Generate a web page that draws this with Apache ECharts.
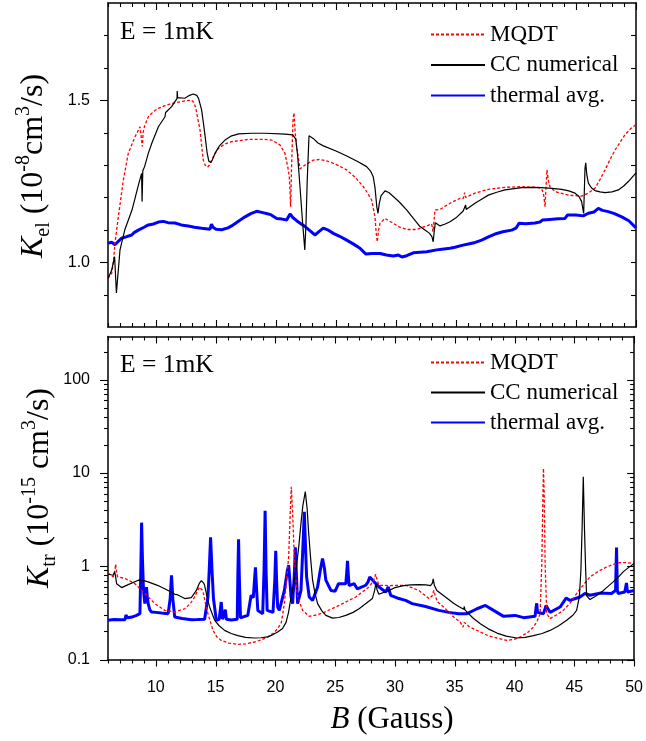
<!DOCTYPE html>
<html>
<head>
<meta charset="utf-8">
<script src="https://cdn.jsdelivr.net/npm/echarts@6/dist/echarts.min.js"></script>
<style>
  html, body { margin: 0; padding: 0; background: #fff; }
  #chart { width: 646px; height: 741px; }
</style>
</head>
<body>
<div id="chart"></div>
<script>
// ---- Elastic rate coefficient K_el (10^-8 cm^3/s) vs B (Gauss) ----
const elMqdt = [
  [6.0,0.95],[6.31,0.966],[6.45,1.0],[6.58,1.058],[6.86,1.140],[7.28,1.254],[7.69,1.336],[8.25,1.387],
  [8.67,1.418],[8.8,1.423],[8.86,1.357],[8.93,1.40],[9.03,1.418],[9.36,1.449],[9.8,1.465],[10.19,1.475],
  [10.8,1.484],[11.31,1.490],[12.42,1.498],[12.97,1.500],[13.15,1.493],[13.3,1.478],[13.5,1.44],[13.67,1.408],
  [13.8,1.36],[13.94,1.315],[14.1,1.30],[14.3,1.293],[14.45,1.30],[14.64,1.315],[14.9,1.335],[15.19,1.351],
  [15.7,1.364],[16.3,1.372],[17.69,1.379],[19.0,1.379],[19.64,1.377],[20.33,1.362],[20.75,1.336],[21.0,1.29],
  [21.11,1.264],[21.22,1.171],[21.3,1.30],[21.42,1.44],[21.5,1.461],[21.6,1.40],[21.72,1.357],[22.0,1.288],
  [22.42,1.300],[23.11,1.315],[23.6,1.317],[24.22,1.313],[25.0,1.302],[25.89,1.285],[26.6,1.262],[27.28,1.233],
  [27.6,1.215],[27.97,1.192],[28.25,1.140],[28.35,1.09],[28.44,1.063],[28.55,1.10],[28.67,1.120],[29.08,1.135],
  [29.4,1.128],[29.78,1.120],[30.3,1.108],[30.89,1.101],[31.72,1.101],[32.56,1.112],[32.97,1.118],[33.08,1.094],
  [33.2,1.14],[33.25,1.161],[33.67,1.163],[34.5,1.182],[35.33,1.197],[35.61,1.197],[35.72,1.215],[35.8,1.20],
  [36.58,1.213],[37.69,1.225],[39.08,1.231],[40.48,1.233],[41.86,1.231],[42.2,1.222],[42.32,1.205],[42.42,1.171],
  [42.5,1.23],[42.58,1.285],[42.7,1.25],[42.83,1.233],[43.25,1.218],[44.36,1.207],[45.47,1.204],[46.0,1.213],
  [46.58,1.228],[47.0,1.255],[47.42,1.285],[47.85,1.318],[48.25,1.346],[48.7,1.372],[49.08,1.393],[49.5,1.41],
  [50.0,1.425]
];
const elCc = [
  [6.0,0.95],[6.3,0.975],[6.55,1.017],[6.7,0.905],[7.0,1.038],[7.4,1.10],[8.0,1.161],[8.5,1.233],[8.8,1.274],
  [8.84,1.187],[8.9,1.282],[9.05,1.295],[9.35,1.335],[9.65,1.367],[10.2,1.418],[10.75,1.449],[10.8,1.462],
  [11.3,1.48],[11.75,1.505],[11.77,1.528],[11.8,1.508],[12.4,1.506],[12.8,1.515],[13.1,1.519],[13.4,1.515],
  [13.55,1.505],[13.8,1.470],[13.95,1.43],[14.1,1.387],[14.25,1.34],[14.4,1.312],[14.58,1.308],[14.75,1.32],
  [14.92,1.336],[15.3,1.36],[15.75,1.377],[16.3,1.39],[16.9,1.396],[18.0,1.398],[19.1,1.398],[20.75,1.395],
  [21.4,1.393],[21.65,1.38],[21.8,1.33],[22.0,1.233],[22.2,1.13],[22.4,1.038],[22.5,1.12],[22.6,1.25],
  [22.75,1.39],[22.83,1.392],[23.1,1.382],[23.5,1.368],[23.95,1.359],[25.0,1.343],[25.9,1.328],[26.8,1.311],
  [27.55,1.295],[27.9,1.28],[28.1,1.264],[28.25,1.23],[28.4,1.171],[28.5,1.151],[28.6,1.18],[28.75,1.205],
  [29.08,1.220],[29.4,1.215],[29.8,1.202],[30.3,1.185],[30.9,1.161],[31.5,1.133],[32.0,1.110],[32.5,1.097],
  [32.8,1.089],[33.0,1.078],[33.1,1.063],[33.2,1.10],[33.28,1.122],[33.67,1.112],[34.1,1.118],[34.5,1.125],
  [35.0,1.137],[35.6,1.158],[35.75,1.162],[35.8,1.177],[35.85,1.163],[36.58,1.182],[37.2,1.196],[37.69,1.207],
  [38.4,1.216],[39.08,1.223],[40.48,1.230],[41.3,1.231],[42.14,1.230],[43.0,1.228],[43.81,1.225],[44.4,1.220],
  [44.92,1.213],[45.25,1.203],[45.47,1.187],[45.6,1.158],[45.64,1.151],[45.75,1.29],[45.81,1.307],[45.9,1.27],
  [46.03,1.244],[46.3,1.229],[46.58,1.221],[47.0,1.217],[47.42,1.215],[48.0,1.217],[48.53,1.223],[49.0,1.236],
  [49.36,1.249],[50.0,1.276]
];
const elThermal = [
  [6.0,1.058],[6.3,1.062],[6.58,1.054],[6.9,1.066],[7.14,1.074],[7.5,1.078],[7.97,1.084],[8.2,1.092],
  [8.53,1.099],[9.0,1.108],[9.36,1.115],[9.8,1.118],[10.2,1.124],[10.61,1.126],[11.0,1.122],[11.58,1.121],
  [12.1,1.115],[12.69,1.112],[13.2,1.108],[13.81,1.105],[14.5,1.102],[14.62,1.117],[14.75,1.108],[15.0,1.102],
  [15.47,1.100],[16.0,1.106],[16.3,1.112],[16.9,1.127],[17.42,1.140],[17.9,1.150],[18.39,1.157],[18.9,1.153],
  [19.36,1.149],[19.6,1.146],[19.75,1.140],[20.06,1.135],[20.5,1.133],[20.89,1.130],[21.17,1.149],[21.4,1.138],
  [21.72,1.128],[22.1,1.118],[22.42,1.110],[22.9,1.095],[23.25,1.084],[23.6,1.095],[23.94,1.105],[24.3,1.100],
  [24.78,1.089],[25.3,1.080],[25.89,1.068],[26.5,1.055],[27.0,1.043],[27.3,1.032],[27.5,1.025],[28.0,1.027],
  [28.67,1.027],[29.2,1.022],[29.78,1.019],[30.2,1.022],[30.5,1.016],[30.89,1.020],[31.44,1.029],[32.0,1.031],
  [32.56,1.032],[33.39,1.038],[34.0,1.041],[34.5,1.043],[34.92,1.046],[35.5,1.052],[36.03,1.056],[36.6,1.061],
  [37.14,1.068],[37.7,1.078],[38.25,1.087],[38.9,1.094],[39.64,1.099],[40.0,1.105],[40.25,1.120],[40.8,1.119],
  [41.58,1.121],[42.0,1.124],[42.2,1.130],[42.83,1.132],[43.5,1.134],[44.08,1.135],[44.3,1.146],[45.0,1.146],
  [45.61,1.143],[46.03,1.151],[46.5,1.155],[46.86,1.166],[47.2,1.160],[47.69,1.156],[48.2,1.150],[48.81,1.140],
  [49.4,1.128],[50.0,1.106]
];

// ---- Trap-loss rate coefficient K_tr (10^-15 cm^3/s) vs B (Gauss) ----
const trMqdt = [
  [6.0,0.85],[6.44,0.767],[6.58,0.90],[6.64,1.05],[6.72,0.85],[6.81,0.77],[7.42,0.74],[8.25,0.65],[9.08,0.51],
  [9.92,0.397],[10.75,0.336],[11.58,0.323],[12.42,0.35],[12.9,0.40],[13.25,0.468],[13.5,0.55],[13.67,0.598],
  [13.8,0.59],[13.94,0.54],[14.15,0.40],[14.36,0.31],[14.78,0.205],[15.1,0.175],[15.47,0.16],[16.1,0.15],
  [16.86,0.145],[17.5,0.147],[18.25,0.154],[18.8,0.162],[19.36,0.175],[19.8,0.19],[20.19,0.214],[20.5,0.25],
  [20.75,0.397],[20.95,0.75],[21.11,1.26],[21.25,4.0],[21.33,7.1],[21.45,3.5],[21.58,1.26],[21.72,0.70],
  [21.86,0.468],[22.28,0.336],[22.83,0.29],[23.4,0.30],[23.94,0.315],[25.33,0.38],[26.72,0.468],[27.83,0.598],
  [28.2,0.70],[28.39,0.82],[28.55,0.68],[28.67,0.625],[29.5,0.62],[30.89,0.625],[32.0,0.55],[32.83,0.45],
  [33.1,0.48],[33.25,0.55],[33.4,0.47],[33.53,0.42],[34.22,0.35],[34.92,0.285],[35.47,0.25],[35.69,0.222],
  [35.8,0.25],[36.2,0.225],[37.14,0.197],[37.8,0.18],[38.53,0.17],[39.36,0.16],[40.0,0.165],[40.5,0.175],
  [41.1,0.195],[41.58,0.222],[41.9,0.26],[42.14,0.31],[42.28,1.07],[42.38,6.0],[42.42,11.2],[42.48,6.0],
  [42.56,1.07],[42.69,0.31],[42.97,0.274],[43.5,0.30],[44.08,0.336],[44.7,0.41],[45.19,0.51],[45.8,0.64],
  [46.31,0.767],[47.0,0.88],[47.69,0.98],[48.3,1.05],[48.81,1.09],[49.4,1.09],[50.0,1.07]
];
const trCc = [
  [6.0,0.82],[6.44,0.80],[6.55,0.87],[6.62,0.80],[6.72,0.65],[7.14,0.59],[7.69,0.635],[8.53,0.708],[9.0,0.70],
  [9.36,0.68],[10.19,0.62],[11.03,0.55],[11.6,0.50],[11.72,0.51],[11.8,0.495],[12.42,0.45],[12.97,0.46],
  [13.39,0.55],[13.65,0.66],[13.81,0.70],[14.0,0.66],[14.08,0.625],[14.3,0.46],[14.5,0.365],[14.92,0.263],
  [15.3,0.23],[15.75,0.205],[16.3,0.19],[16.86,0.18],[17.5,0.173],[18.25,0.17],[18.8,0.171],[19.36,0.175],
  [19.8,0.185],[20.19,0.197],[20.6,0.215],[20.89,0.25],[21.1,0.32],[21.31,0.468],[21.5,0.62],[21.72,0.90],
  [21.95,1.6],[22.14,2.88],[22.3,4.5],[22.5,6.3],[22.65,4.2],[22.78,2.3],[22.95,1.2],[23.11,0.708],[23.3,0.52],
  [23.53,0.397],[23.9,0.33],[24.22,0.297],[24.78,0.278],[25.3,0.282],[25.89,0.297],[26.5,0.32],[27.0,0.35],
  [27.6,0.40],[28.11,0.45],[28.3,0.55],[28.4,0.65],[28.5,0.56],[28.65,0.50],[28.81,0.488],[29.5,0.55],
  [30.0,0.59],[30.61,0.615],[31.3,0.63],[32.0,0.635],[32.6,0.63],[32.97,0.62],[33.13,0.66],[33.2,0.73],
  [33.3,0.62],[33.5,0.55],[34.22,0.468],[34.9,0.40],[35.33,0.37],[35.75,0.345],[35.8,0.37],[35.85,0.34],
  [36.5,0.28],[37.14,0.242],[37.8,0.213],[38.53,0.192],[39.3,0.178],[40.19,0.17],[40.9,0.173],[41.58,0.18],
  [42.3,0.19],[42.97,0.205],[43.7,0.23],[44.36,0.263],[44.9,0.30],[45.19,0.336],[45.42,0.468],[45.55,0.9],
  [45.65,2.5],[45.75,9.1],[45.85,2.5],[45.95,0.9],[46.03,0.48],[46.31,0.44],[46.7,0.47],[47.14,0.51],
  [47.7,0.59],[48.25,0.68],[48.7,0.77],[49.08,0.87],[49.5,0.96],[50.0,1.07]
];
const trThermal = [
  [6.0,0.263],[6.5,0.268],[7.0,0.266],[7.42,0.267],[7.5,0.30],[7.56,0.315],[7.62,0.28],[8.0,0.285],[8.39,0.297],
  [8.67,0.31],[8.75,1.0],[8.81,2.93],[8.88,1.2],[8.97,0.552],[9.08,0.397],[9.22,0.598],[9.3,0.45],[9.36,0.397],
  [9.5,0.34],[9.64,0.323],[10.0,0.32],[10.47,0.315],[11.03,0.31],[11.2,0.45],[11.31,0.80],[11.42,0.45],
  [11.58,0.285],[12.2,0.275],[12.97,0.267],[13.5,0.268],[14.08,0.27],[14.36,0.468],[14.48,1.0],[14.58,2.04],
  [14.7,0.9],[14.82,0.45],[15.06,0.263],[15.3,0.27],[15.47,0.413],[15.58,0.27],[15.72,0.28],[15.81,0.342],
  [15.9,0.27],[16.31,0.265],[16.81,0.27],[16.86,0.8],[16.92,1.94],[16.98,0.8],[17.08,0.28],[17.69,0.297],
  [17.97,0.488],[18.15,0.46],[18.33,0.97],[18.45,0.5],[18.53,0.336],[18.94,0.31],[19.05,0.9],[19.14,3.94],
  [19.22,0.9],[19.31,0.336],[19.8,0.32],[19.95,0.7],[20.03,1.46],[20.1,0.7],[20.19,0.365],[20.33,0.336],
  [20.75,0.55],[21.0,0.9],[21.11,1.025],[21.25,0.6],[21.31,0.468],[21.44,0.397],[21.58,0.8],[21.67,1.59],
  [21.76,0.8],[21.86,0.397],[22.14,0.55],[22.3,1.6],[22.42,3.84],[22.52,1.6],[22.61,0.767],[22.83,0.468],
  [23.11,0.43],[23.53,0.598],[23.75,0.9],[23.94,1.21],[24.1,0.95],[24.22,0.708],[24.64,0.55],[25.0,0.54],
  [25.28,0.65],[25.89,0.65],[25.98,0.9],[26.03,1.14],[26.1,0.8],[26.17,0.62],[26.58,0.65],[26.86,0.57],
  [27.56,0.625],[27.75,0.68],[27.89,0.767],[28.25,0.68],[28.67,0.598],[29.22,0.53],[29.44,0.598],[29.64,0.488],
  [30.33,0.45],[30.89,0.43],[31.44,0.397],[32.56,0.37],[33.67,0.336],[34.5,0.32],[35.33,0.31],[36.03,0.31],
  [36.86,0.35],[37.56,0.38],[38.25,0.336],[39.08,0.29],[40.06,0.297],[40.75,0.281],[41.72,0.29],[41.8,0.36],
  [41.86,0.40],[41.92,0.32],[42.42,0.31],[42.64,0.38],[42.97,0.32],[43.81,0.365],[44.31,0.455],[44.64,0.43],
  [45.47,0.468],[45.89,0.51],[46.31,0.488],[47.14,0.515],[48.11,0.51],[48.45,0.55],[48.53,1.59],[48.6,0.55],
  [48.67,0.51],[49.22,0.53],[49.36,0.66],[49.45,0.53],[50.0,0.55]
];

// ---- Axis ranges, labels and tick positions ----
const bRange = [6, 50];
const bMajorTicks = [10, 15, 20, 25, 30, 35, 40, 45, 50];
const bMinorTicks = [6,7,8,9,11,12,13,14,16,17,18,19,21,22,23,24,26,27,28,29,31,32,33,34,36,37,38,39,41,42,43,44,46,47,48,49];
const elRange = [0.8, 1.8];
const elMajorTicks = [1.0, 1.5];
const elMinorTicks = [0.9, 1.1, 1.2, 1.3, 1.4, 1.6, 1.7];
const trRange = [0.1, 290];
const trMajorTicks = [0.1, 1, 10, 100];
const trMinorTicks = [0.2,0.3,0.4,0.5,0.6,0.7,0.8,0.9, 2,3,4,5,6,7,8,9, 20,30,40,50,60,70,80,90, 200];

const seriesNames = ['MQDT', 'CC numerical', 'thermal avg.'];

const serif = "'Liberation Serif', 'Times New Roman', serif";
const sans = "'Liberation Sans', Arial, sans-serif";

const MAJOR = 7, MINOR = 4;

const chart = echarts.init(document.getElementById('chart'));

const frameLine = () => ({ show: true, onZero: false, lineStyle: { color: '#000', width: 1.5 } });

function xAxisDef(grid, position, labels) {
  return {
    type: 'value', gridIndex: grid, position: position, min: bRange[0], max: bRange[1],
    axisLine: frameLine(), splitLine: { show: false }, axisTick: { show: false },
    axisLabel: { show: !!labels, customValues: bMajorTicks, margin: 20, color: '#000', fontFamily: sans, fontSize: 16 }
  };
}
function yLinDef(position, labels) {
  return {
    type: 'value', gridIndex: 0, position: position, min: elRange[0], max: elRange[1],
    axisLine: frameLine(), splitLine: { show: false }, axisTick: { show: false },
    axisLabel: { show: !!labels, customValues: elMajorTicks, margin: 18, color: '#000', fontFamily: sans, fontSize: 16,
      formatter: v => v.toFixed(1) }
  };
}
function yLogDef(position, labels) {
  return {
    type: 'log', logBase: 10, gridIndex: 1, position: position, min: trRange[0], max: trRange[1],
    axisLine: frameLine(), splitLine: { show: false }, axisTick: { show: false },
    axisLabel: { show: !!labels, customValues: trMajorTicks, margin: 18, color: '#000', fontFamily: sans, fontSize: 16,
      formatter: v => (v < 1 ? String(+v.toFixed(1)) : String(Math.round(v))) }
  };
}

const mqdtStyle = { color: '#ff0000', width: 1.3, type: [3, 2] };
const ccStyle = { color: '#000000', width: 1.2 };
const thermalStyle = { color: '#0000ff', width: 3 };

function lineSeries(name, data, xi, yi, style, z) {
  return {
    name: name, type: 'line', xAxisIndex: xi, yAxisIndex: yi, data: data,
    showSymbol: false, symbol: 'none', smooth: false, z: z,
    itemStyle: { color: style.color },
    lineStyle: Object.assign({}, style)
  };
}

function legendDef(top, gap) {
  return {
    data: seriesNames, orient: 'vertical', left: 425, top: top,
    itemWidth: 54, itemHeight: 4, itemGap: gap,
    itemStyle: { opacity: 0 },
    textStyle: { fontFamily: serif, fontSize: 23, color: '#000', lineHeight: 25 },
    selectedMode: false
  };
}

function yTitle(x, y, sub, sup, gap) {
  return {
    type: 'text', x: x, y: y, rotation: Math.PI / 2,
    style: {
      text: '{i|K}{sub|' + sub + '}{n| (10}{sup|' + sup + '}{n|' + gap + 'cm}{sup|3}{n|/s)}',
      align: 'center', verticalAlign: 'middle', fill: '#000',
      rich: {
        i: { fontFamily: serif, fontSize: 32, fontStyle: 'italic', lineHeight: 40 },
        n: { fontFamily: serif, fontSize: 32, lineHeight: 40 },
        sub: { fontFamily: serif, fontSize: 20, lineHeight: 20, verticalAlign: 'bottom' },
        sup: { fontFamily: serif, fontSize: 20, lineHeight: 20, verticalAlign: 'top' }
      }
    }
  };
}

const textElements = [
  { type: 'text', left: 120, top: 19, style: { text: 'E = 1mK', fontFamily: serif, fontSize: 25.5, fill: '#000' } },
  { type: 'text', left: 120, top: 352.5, style: { text: 'E = 1mK', fontFamily: serif, fontSize: 25.5, fill: '#000' } },
  yTitle(34, 166, 'el', '-8', ''),
  yTitle(40, 488, 'tr', '-15', ' '),
  {
    type: 'text', x: 392, y: 720,
    style: {
      text: '{i|B}{n| (Gauss)}', align: 'center', verticalAlign: 'middle', fill: '#000',
      rich: {
        i: { fontFamily: serif, fontSize: 31, fontStyle: 'italic' },
        n: { fontFamily: serif, fontSize: 31 }
      }
    }
  }
];

const option = {
  animation: false,
  backgroundColor: '#fff',
  grid: [
    { left: 108, right: 10, top: 3, height: 324, show: false },
    { left: 108, right: 10, top: 336.5, height: 323, show: false }
  ],
  xAxis: [
    xAxisDef(0, 'bottom', false),
    xAxisDef(0, 'top', false),
    xAxisDef(1, 'bottom', true),
    xAxisDef(1, 'top', false)
  ],
  yAxis: [
    yLinDef('left', true),
    yLinDef('right', false),
    yLogDef('left', true),
    yLogDef('right', false)
  ],
  legend: [legendDef(17, 5.5), legendDef(345, 5)],
  series: [
    lineSeries('MQDT', elMqdt, 0, 0, mqdtStyle, 3),
    lineSeries('CC numerical', elCc, 0, 0, ccStyle, 4),
    lineSeries('thermal avg.', elThermal, 0, 0, thermalStyle, 2),
    lineSeries('MQDT', trMqdt, 2, 2, mqdtStyle, 3),
    lineSeries('CC numerical', trCc, 2, 2, ccStyle, 4),
    lineSeries('thermal avg.', trThermal, 2, 2, thermalStyle, 2)
  ],
  graphic: { elements: textElements }
};

chart.setOption(option);

// Map a (B, K) pair of a panel to pixels through that panel's axis scales.
function toPixel(panel, x, y) {
  let p = null;
  try {
    p = chart.convertToPixel({ seriesIndex: panel === 0 ? 0 : 3 }, [x, y]);
  } catch (e) { p = null; }
  if (!p || !isFinite(p[0]) || !isFinite(p[1])) {
    try {
      const model = chart.getModel();
      const xa = model.getComponent('xAxis', panel === 0 ? 0 : 2).axis;
      const ya = model.getComponent('yAxis', panel === 0 ? 0 : 2).axis;
      p = [xa.toGlobalCoord(xa.dataToCoord(x)), ya.toGlobalCoord(ya.dataToCoord(y))];
    } catch (e) { p = null; }
  }
  return (p && isFinite(p[0]) && isFinite(p[1])) ? p : null;
}

// Short tick strokes along the frame edges.
function tickMarks(panel, values, fixed, isX, dx, dy) {
  const out = [];
  values.forEach(v => {
    const p = toPixel(panel, isX ? v : fixed, isX ? fixed : v);
    if (!p) return;
    const x = isX ? Math.round(p[0]) + 0.5 : p[0];
    const y = isX ? p[1] : Math.round(p[1]) + 0.5;
    out.push({
      type: 'line', z: 100,
      shape: { x1: x, y1: y, x2: x + dx, y2: y + dy },
      style: { stroke: '#000', lineWidth: 1.1 }
    });
  });
  return out;
}

try {
  const tickElements = [].concat(
    // upper panel: ticks point into the plot on bottom, top and right; out on the left
    tickMarks(0, bMajorTicks, elRange[0], true, 0, -MAJOR),
    tickMarks(0, bMinorTicks, elRange[0], true, 0, -MINOR),
    tickMarks(0, bMajorTicks, elRange[1], true, 0, MAJOR),
    tickMarks(0, bMinorTicks, elRange[1], true, 0, MINOR),
    tickMarks(0, elMajorTicks, bRange[0], false, -MAJOR - 1, 0),
    tickMarks(0, elMinorTicks, bRange[0], false, -MINOR, 0),
    tickMarks(0, elMajorTicks.concat(elMinorTicks), bRange[1], false, -5, 0),
    // lower panel: bottom and left point outward, top and right inward
    tickMarks(1, bMajorTicks, trRange[0], true, 0, MAJOR),
    tickMarks(1, bMinorTicks, trRange[0], true, 0, MINOR),
    tickMarks(1, bMajorTicks, trRange[1], true, 0, MAJOR),
    tickMarks(1, bMinorTicks, trRange[1], true, 0, MINOR),
    tickMarks(1, trMajorTicks, bRange[0], false, -MAJOR - 1, 0),
    tickMarks(1, trMinorTicks, bRange[0], false, -MINOR, 0),
    tickMarks(1, trMajorTicks, bRange[1], false, -MAJOR, 0),
    tickMarks(1, trMinorTicks, bRange[1], false, -MINOR, 0)
  );
  if (tickElements.length) {
    chart.setOption({ graphic: { elements: textElements.concat(tickElements) } });
  }
} catch (e) { /* frame stays without tick strokes */ }
</script>
</body>
</html>
